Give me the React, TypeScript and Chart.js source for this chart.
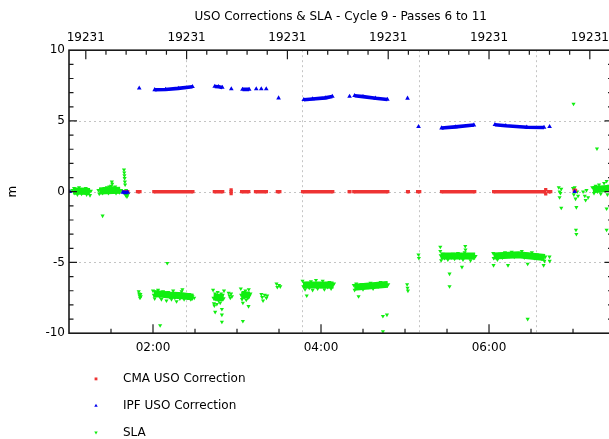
import React, { useEffect, useRef } from 'react';
import { Chart, registerables, PointElement } from 'chart.js';

Chart.register(...registerables);

type Pt = [number, number] | null;

// ---------- text ----------
const TITLE = 'USO Corrections & SLA - Cycle 9 - Passes 6 to 11';
const Y_TITLE = 'm';
const DAY_NUMBER = 19231;
const SERIES_NAMES = ['CMA USO Correction', 'IPF USO Correction', 'SLA'];

// ---------- axes (x in hours of day) ----------
const X_MIN = 1;
const X_MAX = 7.47;
const Y_MIN = -10;
const Y_MAX = 10;
const HOUR_LABEL_TICKS = [2, 4, 6];
const DAY_LABEL_TICKS = [1.2, 2.4, 3.6, 4.8, 6.0, 7.2];
const Y_LABEL_TICKS = [-10, -5, 0, 5, 10];
const Y_GRID_VALUES = [-5, 0, 5];
const PASS_BOUNDARIES = [2.388, 3.777, 5.166, 6.555];

// ---------- series ----------
// CMA USO correction: runs of dense samples (start/end of each run), null = gap
const CMA_USO: Pt[] = [
  [1.65, 0], [1.70, 0], null,
  [1.815, 0], [1.845, 0], null,
  [2.01, 0], [2.475, 0], null,
  [2.73, 0], [2.83, 0], null,
  [2.93, 0.13], null, [2.93, -0.13], null, [2.93, 0], null,
  [3.055, 0], [3.14, 0], null,
  [3.22, 0], [3.35, 0], null,
  [3.48, 0], [3.51, 0], null,
  [3.78, 0], [4.14, 0], null,
  [4.335, 0], [4.345, 0], null,
  [4.39, 0], [4.795, 0], null,
  [5.03, 0], [5.04, 0], null,
  [5.15, 0], [5.175, 0], null,
  [5.435, 0], [5.83, 0], null,
  [6.055, 0], [6.665, 0], null,
  [6.675, 0.15], null, [6.675, -0.15], null,
  [6.71, 0], [6.735, 0], null,
  [7.015, 0.1], [7.03, 0.1],
];

// IPF USO correction
const IPF_USO: Pt[] = [
  [1.01, 0], null,
  [1.64, -0.05], [1.70, -0.05], null,
  [1.836, 7.32], null,
  [2.02, 7.2], [2.15, 7.22], [2.3, 7.3], [2.47, 7.42], null,
  [2.735, 7.44], [2.78, 7.42], [2.825, 7.37], null,
  [2.932, 7.27], null,
  [3.065, 7.23], [3.145, 7.23], null,
  [3.229, 7.27], null, [3.289, 7.27], null, [3.348, 7.27], null,
  [3.495, 6.62], null,
  [3.795, 6.5], [3.9, 6.55], [4.05, 6.63], [4.135, 6.73], null,
  [4.34, 6.73], null,
  [4.4, 6.78], [4.5, 6.72], [4.65, 6.6], [4.79, 6.52], null,
  [5.03, 6.6], null,
  [5.161, 4.59], null,
  [5.435, 4.5], [5.6, 4.58], [5.82, 4.71], null,
  [6.07, 4.73], [6.2, 4.66], [6.45, 4.56], [6.655, 4.54], null,
  [6.721, 4.59], null,
  [7.02, 0.0],
];

// SLA individual samples
const SLA: Pt[] = [
  [1.04, 0.1], [1.06, 0.25], [1.07, -0.1], [1.09, 0.2], [1.1, -0.2], [1.12, 0.3], [1.13, 0.0],
  [1.15, -0.15], [1.16, 0.2], [1.18, -0.05], [1.2, 0.25], [1.21, -0.2], [1.23, 0.1], [1.25, -0.25], [1.26, 0.05],
  [1.4, -1.7],
  [1.35, 0.1], [1.36, -0.15], [1.38, 0.2], [1.4, -0.1], [1.42, 0.25], [1.44, 0.0], [1.45, 0.3], [1.47, -0.1],
  [1.48, 0.35], [1.5, 0.4], [1.51, 0.7], [1.515, 0.55], [1.52, 0.3], [1.53, 0.1], [1.55, 0.35], [1.56, -0.1],
  [1.58, 0.15], [1.6, -0.05], [1.62, 0.1],
  [1.655, 1.55], [1.658, 1.35], [1.66, 1.15], [1.662, 0.95], [1.665, 0.7], [1.668, 0.5],
  [1.66, -0.1], [1.675, -0.25], [1.69, -0.35], [1.7, -0.2], [1.68, 0.1],
  [1.83, -7.05], [1.835, -7.2], [1.84, -7.35], [1.845, -7.5], [1.85, -7.25], [1.855, -7.4],
  [2.17, -5.05], [2.085, -9.45],
  [2.0, -7.0], [2.01, -7.3], [2.02, -7.55], [2.04, -7.1], [2.06, -6.95], [2.08, -7.4], [2.1, -7.6],
  [2.12, -7.05], [2.14, -7.3], [2.16, -7.7], [2.18, -7.1], [2.2, -7.45], [2.22, -7.6], [2.24, -7.0],
  [2.26, -7.5], [2.28, -7.75], [2.3, -7.2], [2.32, -7.55], [2.34, -7.05], [2.35, -6.9], [2.37, -7.6],
  [2.39, -7.3], [2.41, -7.5], [2.43, -7.25], [2.45, -7.6], [2.47, -7.4], [2.49, -7.5],
  [2.715, -6.95], [2.72, -7.5], [2.725, -7.9], [2.73, -8.05], [2.74, -7.2], [2.75, -7.6], [2.76, -7.95],
  [2.77, -7.1], [2.78, -7.7], [2.79, -7.4], [2.8, -7.85], [2.81, -7.2], [2.82, -7.6], [2.83, -7.3],
  [2.84, -7.55], [2.845, -7.0],
  [2.74, -8.5], [2.82, -8.3], [2.82, -8.7], [2.82, -9.2],
  [2.9, -7.15], [2.91, -7.35], [2.92, -7.5], [2.93, -7.2], [2.94, -7.4],
  [3.045, -6.85], [3.05, -7.3], [3.06, -7.6], [3.07, -7.86], [3.08, -7.1], [3.09, -7.45], [3.1, -7.0],
  [3.11, -7.65], [3.12, -7.25], [3.13, -7.5], [3.14, -6.9], [3.15, -7.35], [3.16, -7.2],
  [3.07, -9.15], [3.137, -8.1],
  [3.29, -7.25], [3.3, -7.45], [3.31, -7.7], [3.33, -7.3], [3.35, -7.5], [3.36, -7.35],
  [3.47, -6.5], [3.48, -6.75], [3.5, -6.6], [3.515, -6.7],
  [3.78, -6.3], [3.79, -6.7], [3.81, -6.9], [3.83, -7.35], [3.84, -6.45], [3.86, -6.8], [3.88, -6.35],
  [3.9, -6.95], [3.92, -6.55], [3.94, -6.25], [3.96, -6.85], [3.98, -6.5], [4.0, -6.7], [4.02, -6.3],
  [4.04, -6.9], [4.06, -6.55], [4.08, -6.75], [4.1, -6.4], [4.12, -6.85], [4.14, -6.6], [4.155, -6.5],
  [4.39, -6.6], [4.4, -6.95], [4.42, -6.5], [4.447, -7.4], [4.46, -6.8], [4.48, -6.55], [4.5, -6.9],
  [4.53, -6.6], [4.56, -6.75], [4.59, -6.45], [4.62, -6.85], [4.65, -6.55], [4.68, -6.7], [4.71, -6.4],
  [4.74, -6.6], [4.77, -6.45], [4.8, -6.55],
  [4.737, -8.8], [4.785, -8.7], [4.737, -9.87],
  [5.025, -6.55], [5.03, -6.8], [5.035, -7.0],
  [5.16, -4.45], [5.165, -4.7],
  [5.42, -3.9], [5.42, -4.2], [5.425, -4.5], [5.43, -4.85], [5.45, -4.4], [5.47, -4.7], [5.49, -4.5],
  [5.51, -4.8], [5.53, -4.45], [5.55, -4.65], [5.57, -4.4], [5.59, -4.75], [5.61, -4.55], [5.63, -4.35],
  [5.65, -4.7], [5.67, -4.5], [5.69, -4.8], [5.71, -4.3], [5.717, -3.85], [5.72, -4.1], [5.74, -4.6],
  [5.76, -4.45], [5.78, -4.85], [5.8, -4.5], [5.82, -4.7], [5.84, -4.55],
  [5.53, -5.8], [5.53, -6.69], [5.678, -5.32],
  [6.05, -4.35], [6.055, -4.7], [6.054, -5.2], [6.08, -4.5], [6.1, -4.8], [6.13, -4.4], [6.16, -4.65],
  [6.19, -4.3], [6.226, -5.2], [6.24, -4.55], [6.27, -4.25], [6.3, -4.6], [6.33, -4.35], [6.36, -4.5],
  [6.39, -4.2], [6.42, -4.65], [6.45, -4.4], [6.46, -5.1], [6.48, -4.55], [6.51, -4.3], [6.54, -4.7],
  [6.57, -4.45], [6.6, -4.6], [6.63, -4.75], [6.65, -5.2], [6.66, -4.9], [6.67, -4.6],
  [6.46, -9.0],
  [6.72, -4.6], [6.722, -4.9],
  [7.035, -2.7], [7.04, -3.0],
  [6.83, 0.3], [6.84, 0.0], [6.85, -0.1], [6.86, 0.2], [6.84, -0.4], [6.86, -1.15],
  [7.0, 0.25], [7.01, -0.2], [7.02, 0.3], [7.03, -0.5], [7.05, 0.0], [7.06, -0.3], [7.04, -1.1],
  [7.12, 0.0], [7.14, -0.3], [7.16, 0.1], [7.18, -0.4], [7.15, -0.6],
  [7.23, 0.3], [7.25, -0.1], [7.27, 0.4], [7.29, 0.0], [7.31, 0.5], [7.33, -0.15], [7.35, 0.3],
  [7.37, 0.6], [7.39, 0.1], [7.4, 0.75], [7.41, -0.2], [7.43, 0.4], [7.45, 0.2],
  [7.006, 6.2], [7.285, 3.04], [7.4, -1.2], [7.4, -2.7],
];

// SLA dense cores (runs of overlapping samples)
const SLA_CORE: Pt[] = [
  [1.05, 0.05], [1.25, 0.02], null,
  [1.36, 0.05], [1.61, 0.1], null,
  [2.01, -7.2], [2.2, -7.3], [2.35, -7.35], [2.48, -7.45], null,
  [2.72, -7.45], [2.84, -7.5], null,
  [3.05, -7.3], [3.155, -7.3], null,
  [3.785, -6.6], [4.15, -6.6], null,
  [4.395, -6.75], [4.795, -6.55], null,
  [5.425, -4.55], [5.835, -4.55], null,
  [6.055, -4.55], [6.35, -4.45], [6.665, -4.65], null,
  [7.235, 0.15], [7.45, 0.25],
];

// ---------- styling ----------
const RED = '#ee3333';
const BLUE = '#0000ee';
const GREEN = '#11ee11';
const GRID = '#c4c4c4';
const AXIS = '#1a1a1a';
const FONT_FAMILY = "'DejaVu Sans', sans-serif";
const FONT = { family: FONT_FAMILY, size: 12, weight: 'normal' as const };

const CANVAS_W = 620;
const CANVAS_H = 439;
const AREA_LEFT = 69;
const AREA_RIGHT = 612.5;
const AREA_TOP = 50.2;
const AREA_BOTTOM = 333.2;
const TITLE_PAD_TOP = 9.9;
const TITLE_HEIGHT = TITLE_PAD_TOP + 12 * 1.2;

const toXY = (arr: Pt[]) => {
  let lastX = X_MIN;
  return arr.map((p) => {
    if (p) {
      lastX = p[0];
      return { x: p[0], y: p[1] };
    }
    return { x: lastX, y: null as any };
  });
};

const hhmm = (v: number) => {
  const h = Math.floor(v);
  const m = Math.round((v - h) * 60);
  return `${String(h).padStart(2, '0')}:${String(m).padStart(2, '0')}`;
};

const gridPlugin = {
  id: 'dashedGrid',
  beforeDatasetsDraw(chart: any) {
    const { ctx, chartArea: a, scales } = chart;
    ctx.save();
    ctx.strokeStyle = GRID;
    ctx.lineWidth = 1;
    ctx.setLineDash([2, 3]);
    ctx.beginPath();
    for (const v of Y_GRID_VALUES) {
      const y = Math.round(scales.y.getPixelForValue(v)) + 0.5;
      ctx.moveTo(a.left, y);
      ctx.lineTo(a.right, y);
    }
    for (const v of PASS_BOUNDARIES) {
      const x = Math.round(scales.x.getPixelForValue(v)) + 0.5;
      ctx.moveTo(x, a.top);
      ctx.lineTo(x, a.bottom);
    }
    ctx.stroke();
    ctx.restore();
  },
};

const framePlugin = {
  id: 'frameTicks',
  afterDatasetsDraw(chart: any) {
    const { ctx, chartArea: a, scales } = chart;
    ctx.save();
    ctx.strokeStyle = AXIS;
    ctx.lineWidth = 1.2;
    ctx.beginPath();
    for (let v = Y_MIN + 1; v < Y_MAX; v++) {
      const py = scales.y.getPixelForValue(v);
      const len = v % 5 === 0 ? 8 : 4.5;
      ctx.moveTo(a.left, py);
      ctx.lineTo(a.left + len, py);
      ctx.moveTo(a.right, py);
      ctx.lineTo(a.right - len, py);
    }
    for (let v = X_MIN + 0.5; v < X_MAX; v += 0.5) {
      const px = scales.x.getPixelForValue(v);
      const len = v % 2 === 0 ? 9 : 4.5;
      ctx.moveTo(px, a.bottom);
      ctx.lineTo(px, a.bottom - len);
    }
    for (let k = 1; k * 0.24 < X_MAX; k++) {
      const v = k * 0.24;
      if (v <= X_MIN) continue;
      const px = scales.xTop.getPixelForValue(v);
      const len = k % 5 === 0 ? 9 : 4.5;
      ctx.moveTo(px, a.top);
      ctx.lineTo(px, a.top + len);
    }
    ctx.stroke();
    ctx.lineWidth = 1.6;
    ctx.strokeRect(a.left, a.top, a.right - a.left, a.bottom - a.top);
    ctx.restore();
  },
};

const legendPlugin = {
  id: 'stackedLegend',
  afterDraw(chart: any) {
    const { ctx, chartArea: a } = chart;
    chart.data.datasets.forEach((ds: any, i: number) => {
      if (ds.legendHidden) return;
      const cy = a.bottom + 46 + i * 26.85;
      ctx.save();
      const pt: any = new PointElement({} as any);
      pt.x = a.left + 27;
      pt.y = cy - 0.3;
      pt.options = {
        pointStyle: ds.pointStyle,
        radius: 2,
        rotation: ds.pointRotation || 0,
        backgroundColor: ds.pointBackgroundColor,
        borderColor: ds.pointBackgroundColor,
        borderWidth: 0,
      };
      pt.draw(ctx);
      ctx.restore();
      ctx.save();
      ctx.font = `12px ${FONT_FAMILY}`;
      ctx.fillStyle = '#000';
      ctx.textBaseline = 'middle';
      ctx.textAlign = 'left';
      ctx.fillText(ds.label, a.left + 54, cy);
      ctx.restore();
    });
  },
};

export default function App() {
  const ref = useRef<HTMLCanvasElement>(null);

  useEffect(() => {
    document.body.style.margin = '0';
    document.body.style.overflow = 'hidden';
    const canvas = ref.current;
    if (!canvas) return;

    const hiddenAxis = { display: false, drawTicks: false };
    const chart = new Chart(canvas, {
      type: 'scatter',
      data: {
        datasets: [
          {
            label: SERIES_NAMES[0],
            data: toXY(CMA_USO),
            showLine: true,
            borderColor: RED,
            backgroundColor: RED,
            borderWidth: 3.4,
            pointBackgroundColor: RED,
            pointBorderWidth: 0,
            pointStyle: 'rect',
            pointRadius: 2.3,
            order: 2,
          },
          {
            label: SERIES_NAMES[1],
            data: toXY(IPF_USO),
            showLine: true,
            borderColor: BLUE,
            backgroundColor: BLUE,
            borderWidth: 3.6,
            pointBackgroundColor: BLUE,
            pointBorderWidth: 0,
            pointStyle: 'triangle',
            pointRadius: 2.7,
            order: 1,
          },
          {
            label: SERIES_NAMES[2],
            data: toXY(SLA),
            showLine: false,
            borderColor: GREEN,
            backgroundColor: GREEN,
            pointBackgroundColor: GREEN,
            pointBorderWidth: 0,
            pointStyle: 'triangle',
            pointRotation: 180,
            pointRadius: 2.4,
            order: 3,
          },
          {
            label: 'SLA core',
            legendHidden: true,
            data: toXY(SLA_CORE),
            showLine: true,
            borderColor: GREEN,
            backgroundColor: GREEN,
            borderWidth: 7,
            pointRadius: 0,
            order: 4,
          } as any,
        ],
      },
      options: {
        responsive: false,
        animation: false,
        devicePixelRatio: 1,
        events: [],
        layout: { padding: { left: 0, right: CANVAS_W - AREA_RIGHT, top: 0, bottom: 0 } },
        plugins: {
          legend: { display: false },
          tooltip: { enabled: false },
          title: {
            display: true,
            text: TITLE,
            color: '#000',
            font: FONT,
            fullSize: false,
            padding: { top: TITLE_PAD_TOP, bottom: 0 },
          },
        },
        scales: {
          x: {
            type: 'linear',
            position: 'bottom',
            min: X_MIN,
            max: X_MAX,
            grid: hiddenAxis,
            border: { display: false },
            ticks: {
              color: '#000',
              font: FONT,
              padding: 7.5,
              autoSkip: false,
              maxRotation: 0,
              callback: (v: any) => hhmm(Number(v)),
            },
            afterBuildTicks: (s: any) => {
              s.ticks = HOUR_LABEL_TICKS.map((value) => ({ value }));
            },
            afterFit: (s: any) => {
              s.height = CANVAS_H - AREA_BOTTOM;
            },
          },
          xTop: {
            type: 'linear',
            position: 'top',
            min: X_MIN,
            max: X_MAX,
            grid: hiddenAxis,
            border: { display: false },
            ticks: {
              color: '#000',
              font: FONT,
              padding: 4.7,
              autoSkip: false,
              maxRotation: 0,
              callback: (v: any) => String(DAY_NUMBER + Math.floor(Number(v) / 24)),
            },
            afterBuildTicks: (s: any) => {
              s.ticks = DAY_LABEL_TICKS.map((value) => ({ value }));
            },
            afterFit: (s: any) => {
              s.height = AREA_TOP - TITLE_HEIGHT;
            },
          },
          y: {
            type: 'linear',
            position: 'left',
            min: Y_MIN,
            max: Y_MAX,
            grid: hiddenAxis,
            border: { display: false },
            ticks: {
              color: '#000',
              font: FONT,
              padding: 4,
              autoSkip: false,
              callback: (v: any) => String(v),
            },
            afterBuildTicks: (s: any) => {
              s.ticks = Y_LABEL_TICKS.map((value) => ({ value }));
            },
            title: {
              display: true,
              text: Y_TITLE,
              color: '#000',
              font: FONT,
              padding: { top: 6, bottom: 0 },
            },
            afterFit: (s: any) => {
              s.width = AREA_LEFT;
            },
          },
        },
      } as any,
      plugins: [gridPlugin, framePlugin, legendPlugin],
    });

    return () => chart.destroy();
  }, []);

  return (
    <div style={{ position: 'fixed', left: 0, top: 0, width: CANVAS_W, height: CANVAS_H }}>
      <canvas
        ref={ref}
        width={CANVAS_W}
        height={CANVAS_H}
        style={{ width: CANVAS_W, height: CANVAS_H, display: 'block' }}
      />
    </div>
  );
}
